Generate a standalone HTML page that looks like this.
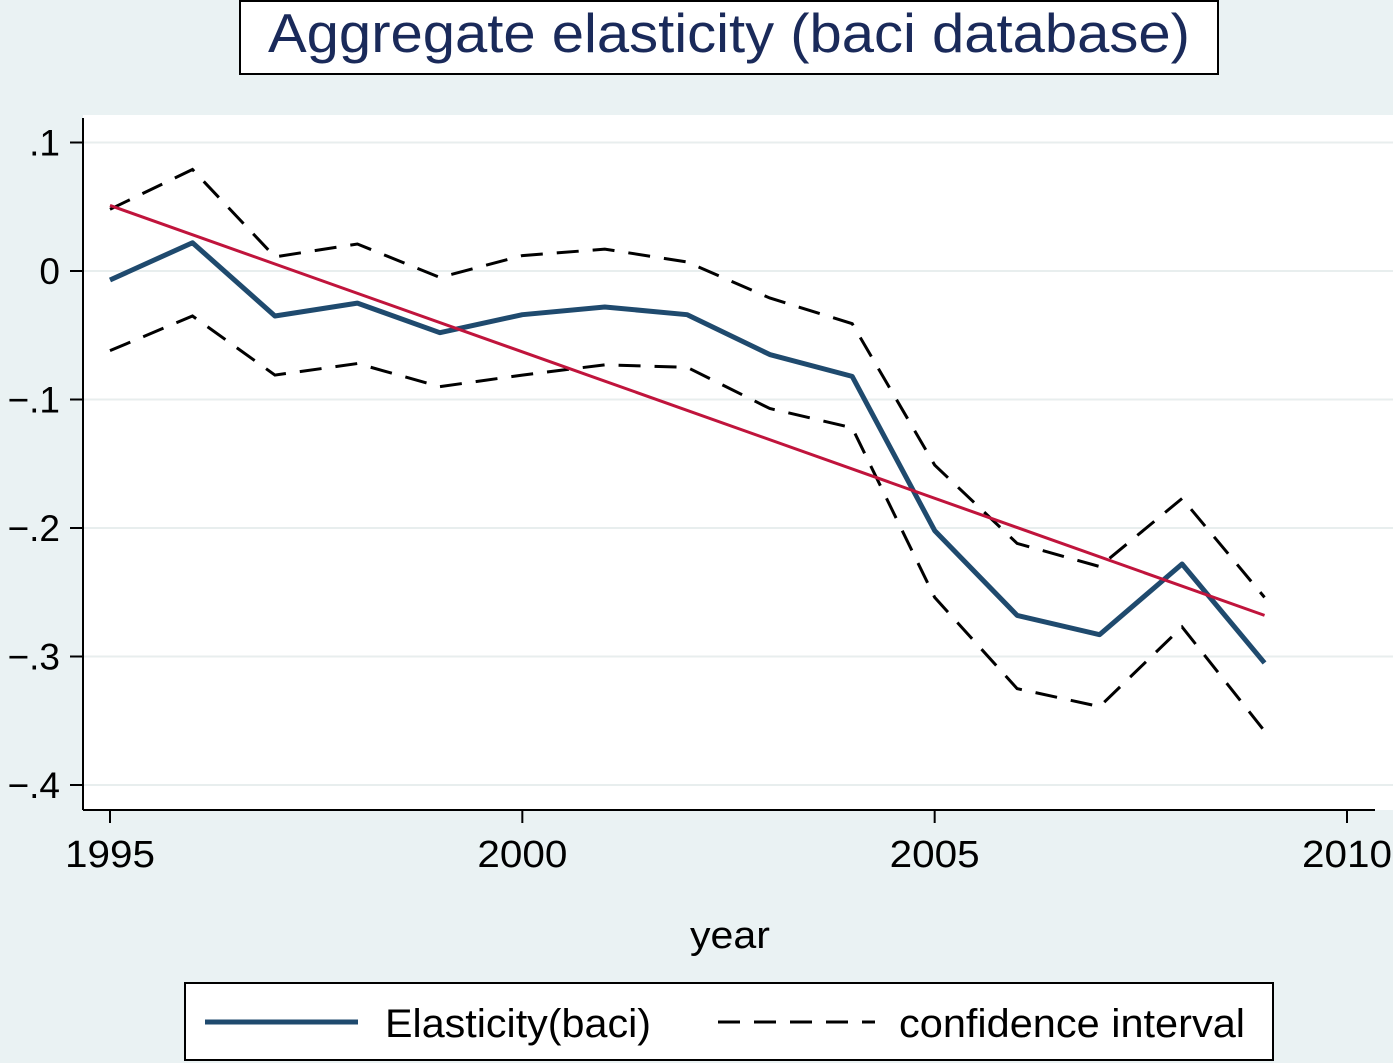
<!DOCTYPE html>
<html><head><meta charset="utf-8"><style>
body{margin:0;background:#eaf2f3;}
svg{display:block;font-family:"Liberation Sans",sans-serif;}
</style></head><body>
<svg width="1393" height="1063" id="c">
<rect x="0" y="0" width="1393" height="1063" fill="#eaf2f3"/>
<rect x="240" y="1" width="978" height="73" fill="#fff" stroke="#000" stroke-width="2"/>
<text x="268" y="52" font-size="55" fill="#1a2a5a" textLength="922" lengthAdjust="spacingAndGlyphs">Aggregate elasticity (baci database)</text>
<rect x="83" y="115" width="1310" height="695" fill="#fff"/>
<g id="grid"></g>
<g id="marks"></g>
<line x1="83" y1="118" x2="83" y2="810" stroke="#000" stroke-width="2"/>
<line x1="83" y1="810" x2="1375" y2="810" stroke="#000" stroke-width="2"/>
<text x="690" y="948" font-size="38" textLength="80" lengthAdjust="spacingAndGlyphs">year</text>
<rect x="185" y="983" width="1088" height="77" fill="#fff" stroke="#000" stroke-width="2"/>
<line x1="205" y1="1022" x2="358" y2="1022" stroke="#1f4a6e" stroke-width="5"/>
<text x="385" y="1037" font-size="40" textLength="266" lengthAdjust="spacingAndGlyphs">Elasticity(baci)</text>
<line x1="718" y1="1022" x2="875" y2="1022" stroke="#000" stroke-width="3" stroke-dasharray="22,14"/>
<text x="899" y="1037" font-size="40" textLength="346" lengthAdjust="spacingAndGlyphs">confidence interval</text>
</svg>
<script>
const years=[1995,1996,1997,1998,1999,2000,2001,2002,2003,2004,2005,2006,2007,2008,2009];
const elasticity=[-0.007,0.022,-0.035,-0.025,-0.048,-0.034,-0.028,-0.034,-0.065,-0.082,-0.202,-0.268,-0.283,-0.228,-0.305];
const upper=[0.048,0.079,0.011,0.021,-0.005,0.012,0.017,0.007,-0.021,-0.041,-0.151,-0.212,-0.230,-0.177,-0.254];
const lower=[-0.062,-0.035,-0.081,-0.072,-0.090,-0.081,-0.073,-0.075,-0.107,-0.122,-0.254,-0.325,-0.339,-0.277,-0.358];
const fitStart=0.051, fitEnd=-0.268;
const yTicks=[0.1,0,-0.1,-0.2,-0.3,-0.4];
const yTickLabels=[".1","0","\u2212.1","\u2212.2","\u2212.3","\u2212.4"];
const xTicks=[1995,2000,2005,2010];
const NS="http://www.w3.org/2000/svg";
const X=v=>110+(v-1995)*(1347-110)/15;
const Y=v=>271-v*1285;
const grid=document.getElementById('grid'), marks=document.getElementById('marks'), svg=document.getElementById('c');
function mk(tag,attrs,parent){const e=document.createElementNS(NS,tag);for(const k in attrs)e.setAttribute(k,attrs[k]);parent.appendChild(e);return e;}
yTicks.forEach((t,i)=>{
  const g=mk('line',{x1:83,x2:1393,y1:Y(t),y2:Y(t),stroke:'#e8eeee','stroke-width':2},grid);
  
  
  const tk=mk('line',{x1:70,x2:83,y1:Y(t),y2:Y(t),stroke:'#000','stroke-width':2},svg);
  
  
  const tx=mk('text',{x:60,y:Y(t)+13,'font-size':37,'text-anchor':'end'},svg);
  tx.textContent=yTickLabels[i];
  
  
});
xTicks.forEach(t=>{
  const tk=mk('line',{x1:X(t),x2:X(t),y1:810,y2:823,stroke:'#000','stroke-width':2},svg);
  
  
  const tx=mk('text',{x:X(t)-45,y:867,'font-size':38,textLength:90,lengthAdjust:'spacingAndGlyphs'},svg);
  tx.textContent=t;
  
  
});
function pts(arr){return arr.map((v,i)=>X(years[i])+','+Y(v)).join(' ');}
const up=mk('polyline',{points:pts(upper),fill:'none',stroke:'#000','stroke-width':3,'stroke-dasharray':'22,14'},marks);


const lo=mk('polyline',{points:pts(lower),fill:'none',stroke:'#000','stroke-width':3,'stroke-dasharray':'22,14'},marks);


const el=mk('polyline',{points:pts(elasticity),fill:'none',stroke:'#1f4a6e','stroke-width':5,'stroke-linejoin':'round'},marks);


const fit=mk('line',{x1:X(years[0]),y1:Y(fitStart),x2:X(years[years.length-1]),y2:Y(fitEnd),stroke:'#c0143c','stroke-width':3},marks);


</script>
</body></html>
